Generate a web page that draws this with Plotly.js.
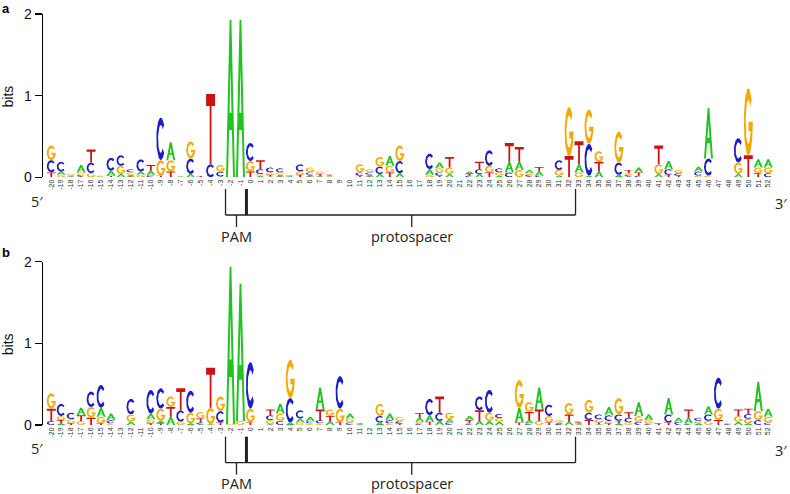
<!DOCTYPE html>
<html><head><meta charset="utf-8">
<script src="https://cdn.plot.ly/plotly-3.0.1.min.js"></script>
<style>html,body{margin:0;padding:0;background:#fff}#chart{width:790px;height:494px}</style>
</head><body><div id="chart"></div>
<script>
// ---- data ----
const positions = [-20,-19,-18,-17,-16,-15,-14,-13,-12,-11,-10,-9,-8,-7,-6,-5,-4,-3,-2,-1,0,
  1,2,3,4,5,6,7,8,9,10,11,12,13,14,15,16,17,18,19,20,21,22,23,24,25,26,27,28,29,30,
  31,32,33,34,35,36,37,38,39,40,41,42,43,44,45,46,47,48,49,50,51,52];
const tickLabels = positions.map(String);

// panel a: information (bits) per nucleotide per position
const aA = [0,0.04,0.01,0.09,0,0,0.06,0.04,0.02,0.04,0.05,0,0.22,0.01,0.04,0,0,0.01,1.93,1.93,0,
  0.02,0.01,0.02,0.01,0,0.02,0.01,0.01,0,0,0,0.02,0.04,0.12,0.05,0,0,0.07,0.07,0.04,0,0.03,0.04,0,0.02,0.13,0.1,0.04,0.05,0,
  0.02,0,0.1,0.02,0.07,0,0.03,0.01,0.06,0,0.04,0.1,0,0,0.06,0.62,0,0,0.04,0,0.1,0.1];
const aC = [0.15,0.12,0.01,0.02,0.13,0,0.16,0.13,0.04,0.15,0.03,0.52,0,0,0.19,0,0.16,0.06,0,0,0.22,
  0.06,0.06,0.05,0.01,0.09,0.03,0.01,0,0,0,0.04,0.03,0.09,0,0.15,0,0,0.19,0.04,0,0,0.02,0.06,0.19,0.05,0.06,0,0.02,0.02,0,
  0.12,0,0,0.39,0,0,0.15,0.02,0.02,0,0,0.07,0.03,0,0.05,0.21,0,0,0.3,0,0,0.05];
const aG = [0.18,0.03,0.02,0.03,0.05,0.02,0,0.1,0.03,0.03,0,0.19,0.14,0.01,0.21,0,0,0.08,0,0,0.13,
  0.02,0.03,0.03,0.01,0.04,0.06,0.03,0.01,0,0,0.1,0.04,0.12,0.08,0.19,0,0,0.03,0.05,0.08,0,0,0,0.08,0.04,0,0.09,0.02,0,0,
  0.07,0.6,0.06,0.42,0.13,0,0.38,0.02,0,0,0.12,0,0.04,0,0.02,0.02,0,0,0.14,0.82,0.07,0.07];
const aT = [0.06,0,0,0.01,0.16,0,0.02,0,0.01,0,0.07,0.02,0.07,0,0,0.015,0.86,0,0,0,0.07,
  0.11,0.02,0.01,0,0.03,0.01,0.02,0.01,0,0,0.02,0.01,0,0.06,0,0,0,0,0.02,0.13,0,0.02,0.09,0.06,0,0.23,0.18,0.01,0.055,0,
  0,0.26,0.28,0,0.12,0,0,0.04,0.04,0,0.23,0.03,0.02,0,0,0,0,0,0,0.27,0.05,0];

// panel b
const bA = [0,0.02,0,0.09,0,0.11,0.08,0,0.04,0,0.07,0.03,0.1,0,0.02,0.01,0.01,0,1.93,1.68,0,
  0,0.01,0.12,0.03,0.05,0.05,0.27,0.05,0,0.06,0.01,0,0.03,0.08,0,0,0.05,0.08,0.05,0.04,0,0.05,0.05,0.05,0.04,0,0.18,0.04,0.27,0,
  0.02,0.04,0.01,0,0.01,0.1,0.02,0,0.17,0.07,0,0.2,0.05,0.07,0.02,0.1,0,0,0.04,0.02,0.36,0.1];
const bC = [0.05,0.15,0.08,0,0.19,0.28,0.04,0,0.19,0,0.29,0.25,0,0.14,0.27,0.02,0,0.14,0,0,0.57,
  0,0.06,0.05,0.3,0.1,0.03,0.04,0,0.4,0.03,0.01,0,0.08,0.04,0.03,0,0.02,0.2,0.1,0.03,0,0.02,0.17,0.28,0.05,0,0,0.02,0,0.14,
  0.01,0,0.01,0.09,0.06,0.07,0.08,0.06,0.04,0.02,0,0.1,0.04,0.02,0.04,0.08,0.38,0.02,0,0.06,0.06,0.03];
const bG = [0.19,0.05,0.05,0.05,0.13,0.08,0.02,0,0.09,0,0.05,0.15,0.13,0.04,0.13,0.08,0.2,0.18,0.01,0.05,0.17,
  0,0.05,0.09,0.47,0.03,0.02,0.02,0.08,0.17,0.05,0,0,0.15,0.02,0.05,0,0.02,0,0,0.08,0,0,0,0.1,0.045,0,0.34,0.12,0.05,0.08,
  0.03,0.14,0.02,0.16,0.04,0.03,0.2,0.03,0.07,0.04,0,0,0,0,0.03,0.05,0.14,0,0.07,0.055,0.11,0.07];
const bT = [0.15,0.04,0.02,0.07,0.09,0.02,0,0,0,0,0.02,0.02,0.12,0.27,0,0.05,0.49,0.03,0,0,0.03,
  0,0.07,0,0,0,0,0.13,0.06,0.03,0,0,0,0,0,0.02,0,0.055,0.04,0.2,0,0,0.04,0.13,0,0,0,0.03,0.1,0.14,0.03,
  0,0.09,0.01,0.06,0.02,0.02,0.03,0.065,0,0,0.02,0.03,0,0.1,0,0,0.06,0,0.08,0.065,0,0];

const colors = {A:'#1fc41f', C:'#1c1cc8', G:'#f7a800', T:'#cc1212'};

// ---- glyph outlines in a unit box ----
function arc(cx,cy,rx,ry,a0,a1,n){const p=[];for(let i=0;i<=n;i++){const t=(a0+(a1-a0)*i/n)*Math.PI/180;p.push([cx+rx*Math.cos(t),cy+ry*Math.sin(t)]);}return p;}
const GLYPH = {
  A: [[0,0],[0.22,0],[0.34,0.3],[0.66,0.3],[0.78,0],[1,0],[0.6,1],[0.4,1]],
  T: [[0,1],[1,1],[1,0.83],[0.6,0.83],[0.6,0],[0.4,0],[0.4,0.83],[0,0.83]],
  C: arc(.5,.5,.5,.5,42,318,40).concat(arc(.5,.5,.3,.33,318,42,40)),
  G: arc(.5,.5,.5,.5,42,360,40).concat([[0.52,0.5],[0.52,0.361]]).concat(arc(.5,.5,.3,.33,335,42,40))
};
const HOLE_A = [[0.388,0.41],[0.612,0.41],[0.5,0.7]];
const W = 0.9;

function buildPanel(data, xa, ya){
  const tr = {A:{x:[],y:[]},C:{x:[],y:[]},G:{x:[],y:[]},T:{x:[],y:[]}};
  const hole = {x:[],y:[]};
  positions.forEach((p,i)=>{
    const stack = ['A','C','G','T'].map(n=>[n,data[n][i]]).filter(d=>d[1]>0).sort((a,b)=>a[1]-b[1]);
    let y0 = 0;
    stack.forEach(([n,h])=>{
      const t = tr[n];
      GLYPH[n].forEach(([gx,gy])=>{t.x.push(p-W/2+W*gx); t.y.push(y0+h*gy);});
      t.x.push(null); t.y.push(null);
      if(n==='A'){HOLE_A.forEach(([gx,gy])=>{hole.x.push(p-W/2+W*gx); hole.y.push(y0+h*gy);}); hole.x.push(null); hole.y.push(null);}
      y0 += h;
    });
  });
  const out = ['A','C','G','T'].map(n=>({type:'scatter',mode:'lines',x:tr[n].x,y:tr[n].y,fill:'toself',
    fillcolor:colors[n],line:{width:0,color:colors[n]},hoverinfo:'skip',showlegend:false,xaxis:xa,yaxis:ya}));
  out.push({type:'scatter',mode:'lines',x:hole.x,y:hole.y,fill:'toself',fillcolor:'#ffffff',line:{width:0,color:'#fff'},
    hoverinfo:'skip',showlegend:false,xaxis:xa,yaxis:ya});
  return out;
}
const traces = buildPanel({A:aA,C:aC,G:aG,T:aT},'x','y').concat(buildPanel({A:bA,C:bC,G:bG,T:bT},'x2','y2'));

const H = 494, Wd = 790;
const py = v => 1 - v/H;
const xdom = [43/Wd, 775/Wd];
const xr = [-20.83, 52.68];
function xAxis(anchor){return {domain:xdom,range:xr,anchor:anchor,tickvals:positions,ticktext:tickLabels,tickangle:-90,
  tickfont:{family:'Arial, Liberation Sans, sans-serif',size:7,color:'#333'},showline:false,showgrid:false,zeroline:false,
  ticks:'',automargin:false,fixedrange:true};}
function yAxis(anchor,dom){return {domain:dom,range:[0,2],anchor:anchor,tickvals:[0,1,2],ticks:'outside',ticklen:7,tickwidth:1.5,
  tickcolor:'#000',showline:true,linewidth:1.5,linecolor:'#000',tickfont:{family:'Arial, Liberation Sans, sans-serif',size:14,color:'#111'},
  showgrid:false,zeroline:false,automargin:false,fixedrange:true};}

const off = 247.7;
const shapes = [], annotations = [];
[['x',0],['x2',off]].forEach(([xref,d])=>{
  const lc = '#222';
  shapes.push({type:'line',xref:xref,yref:'paper',x0:-2.5,x1:-2.5,y0:py(189+d),y1:py(215+d),line:{color:lc,width:1.3}});
  shapes.push({type:'line',xref:xref,yref:'paper',x0:-0.4,x1:-0.4,y0:py(189+d),y1:py(215+d),line:{color:lc,width:3}});
  shapes.push({type:'line',xref:xref,yref:'paper',x0:32.65,x1:32.65,y0:py(189+d),y1:py(215+d),line:{color:lc,width:1.3}});
  shapes.push({type:'line',xref:xref,yref:'paper',x0:-2.5,x1:32.65,y0:py(215+d),y1:py(215+d),line:{color:lc,width:1.3}});
  shapes.push({type:'line',xref:xref,yref:'paper',x0:-1.4,x1:-1.4,y0:py(215+d),y1:py(227+d),line:{color:lc,width:1.3}});
  shapes.push({type:'line',xref:xref,yref:'paper',x0:16.2,x1:16.2,y0:py(215+d),y1:py(227+d),line:{color:lc,width:1.3}});
  const f = {family:'Open Sans, Arial, sans-serif',size:14.5,color:'#222'};
  annotations.push({xref:xref,yref:'paper',x:-1.4,y:py(236+d),text:'PAM',showarrow:false,font:f,xanchor:'center',yanchor:'middle'});
  annotations.push({xref:xref,yref:'paper',x:16.2,y:py(236+d),text:'protospacer',showarrow:false,font:f,xanchor:'center',yanchor:'middle'});
  annotations.push({xref:'paper',yref:'paper',x:37/Wd,y:py(201+d),text:"5′",showarrow:false,font:f,xanchor:'center',yanchor:'middle'});
  annotations.push({xref:'paper',yref:'paper',x:781/Wd,y:py(203+d),text:"3′",showarrow:false,font:f,xanchor:'center',yanchor:'middle'});
  annotations.push({xref:'paper',yref:'paper',x:8/Wd,y:py(96.5+d),text:'bits',textangle:-90,showarrow:false,
    font:{family:'Arial, Liberation Sans, sans-serif',size:14,color:'#111'},xanchor:'center',yanchor:'middle'});
});
annotations.push({xref:'paper',yref:'paper',x:0,y:py(8),text:'<b>a</b>',showarrow:false,xanchor:'left',yanchor:'middle',
  font:{family:'Arial, Liberation Sans, sans-serif',size:13,color:'#000'}});
annotations.push({xref:'paper',yref:'paper',x:0,y:py(252),text:'<b>b</b>',showarrow:false,xanchor:'left',yanchor:'middle',
  font:{family:'Arial, Liberation Sans, sans-serif',size:13,color:'#000'}});

const layout = {
  width:Wd, height:H, margin:{l:0,r:0,t:0,b:0}, paper_bgcolor:'#fff', plot_bgcolor:'#fff', showlegend:false,
  xaxis:xAxis('y'), yaxis:yAxis('x',[py(177.3),py(14)]),
  xaxis2:xAxis('y2'), yaxis2:yAxis('x2',[py(425),py(261.7)]),
  shapes:shapes, annotations:annotations
};
Plotly.newPlot('chart', traces, layout, {displayModeBar:false, staticPlot:true});
</script></body></html>
